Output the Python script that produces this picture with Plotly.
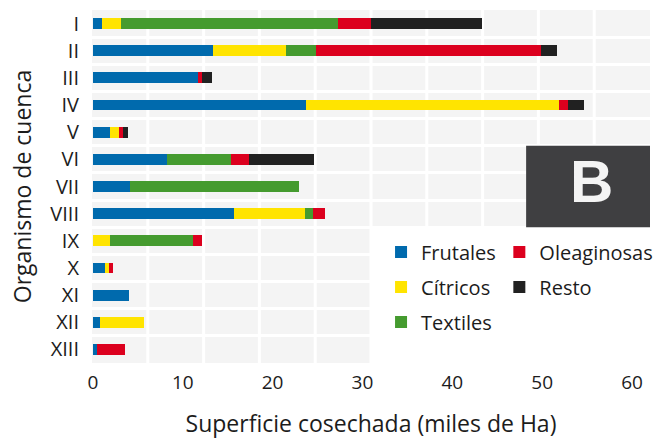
import plotly.graph_objects as go

cuencas = ["I", "II", "III", "IV", "V", "VI", "VII", "VIII", "IX", "X", "XI", "XII", "XIII"]
frutales = [1.0, 13.4, 11.7, 23.7, 1.9, 8.3, 4.1, 15.7, 0.0, 1.4, 4.0, 0.8, 0.45]
citricos = [2.1, 8.1, 0.0, 28.2, 1.0, 0.0, 0.0, 7.9, 1.9, 0.35, 0.0, 4.9, 0.0]
textiles = [24.2, 3.3, 0.0, 0.0, 0.0, 7.1, 18.8, 0.9, 9.2, 0.0, 0.0, 0.0, 0.0]
oleaginosas = [3.7, 25.1, 0.4, 1.0, 0.45, 2.0, 0.0, 1.3, 1.0, 0.45, 0.0, 0.0, 3.1]
resto = [12.3, 1.8, 1.2, 1.7, 0.55, 7.2, 0.0, 0.0, 0.0, 0.0, 0.0, 0.0, 0.0]
x_ticks = [0, 10, 20, 30, 40, 50, 60]

series = [
    ("Frutales", frutales, "#006aad", "legend"),
    ("Cítricos", citricos, "#ffe400", "legend"),
    ("Textiles", textiles, "#459b2f", "legend"),
    ("Oleaginosas", oleaginosas, "#dc001e", "legend2"),
    ("Resto", resto, "#212121", "legend2"),
]

FONT = "Open Sans"
TXT = "#1c1c1c"
W = 500

fig = go.Figure()
for name, vals, color, lg in series:
    fig.add_trace(go.Bar(
        y=cuencas, x=vals, name=name, orientation="h",
        marker=dict(color=color, line=dict(width=0)),
        width=0.4, legend=lg, legendgroup=name,
    ))

shapes = []
for k in range(1, 10):
    shapes.append(dict(type="line", xref="x domain", yref="y domain",
                       x0=k / 10, x1=k / 10, y0=0, y1=1,
                       line=dict(color="white", width=3), layer="below"))
# white area behind legend
shapes.append(dict(type="rect", xref="x domain", yref="y domain",
                   x0=0.5, x1=1.02, y0=-0.01, y1=5 / 13,
                   fillcolor="white", line=dict(width=0), layer="above"))
# "B" box
shapes.append(dict(type="rect", xref="x domain", yref="y domain",
                   x0=0.778, x1=1.0, y0=5 / 13, y1=8 / 13,
                   fillcolor="#3f3f41", line=dict(width=0), layer="above"))

fig.update_layout(
    width=657, height=439, autosize=False,
    margin=dict(l=92, r=7, t=10, b=76, autoexpand=False),
    paper_bgcolor="white", plot_bgcolor="#f4f4f4",
    barmode="stack", bargap=0.6,
    font=dict(family=FONT, size=20, color=TXT, weight=W),
    shapes=shapes,
    annotations=[dict(text="<b>B</b>", xref="x domain", yref="y domain",
                      x=0.895, y=0.515, xanchor="center", yanchor="middle",
                      showarrow=False,
                      font=dict(family="Liberation Sans", size=60, color="#f4f4f4"))],
    xaxis=dict(range=[-0.1, 62], tickvals=x_ticks, showgrid=False, zeroline=False,
               showline=False, ticks="", ticklabelstandoff=6, automargin=False,
               tickfont=dict(size=19, color=TXT, weight=W),
               title=dict(text="Superficie cosechada (miles de Ha)", standoff=33,
                          font=dict(size=23, color=TXT, weight=W))),
    yaxis=dict(categoryorder="array", categoryarray=cuencas, autorange="reversed",
               tickson="boundaries", showgrid=True, gridcolor="white", gridwidth=3,
               zeroline=False, showline=False, ticks="", ticklabelstandoff=12,
               automargin=False,
               tickfont=dict(size=20, color=TXT, weight=W),
               title=dict(text="Organismo de cuenca", standoff=12,
                          font=dict(size=23, color=TXT, weight=W))),
    legend=dict(x=0.518, y=0.37, xanchor="left", yanchor="top",
                orientation="v", bgcolor="rgba(0,0,0,0)", tracegroupgap=6,
                font=dict(size=20, color=TXT, weight=W)),
    legend2=dict(x=0.73, y=0.37, xanchor="left", yanchor="top",
                 orientation="v", bgcolor="rgba(0,0,0,0)", tracegroupgap=6,
                 font=dict(size=20, color=TXT, weight=W)),
    showlegend=True,
)

fig.write_html(
    "out.html",
    config={"responsive": False, "displayModeBar": False},
    post_script="document.body.style.margin='0';document.body.style.overflow='hidden';",
)
